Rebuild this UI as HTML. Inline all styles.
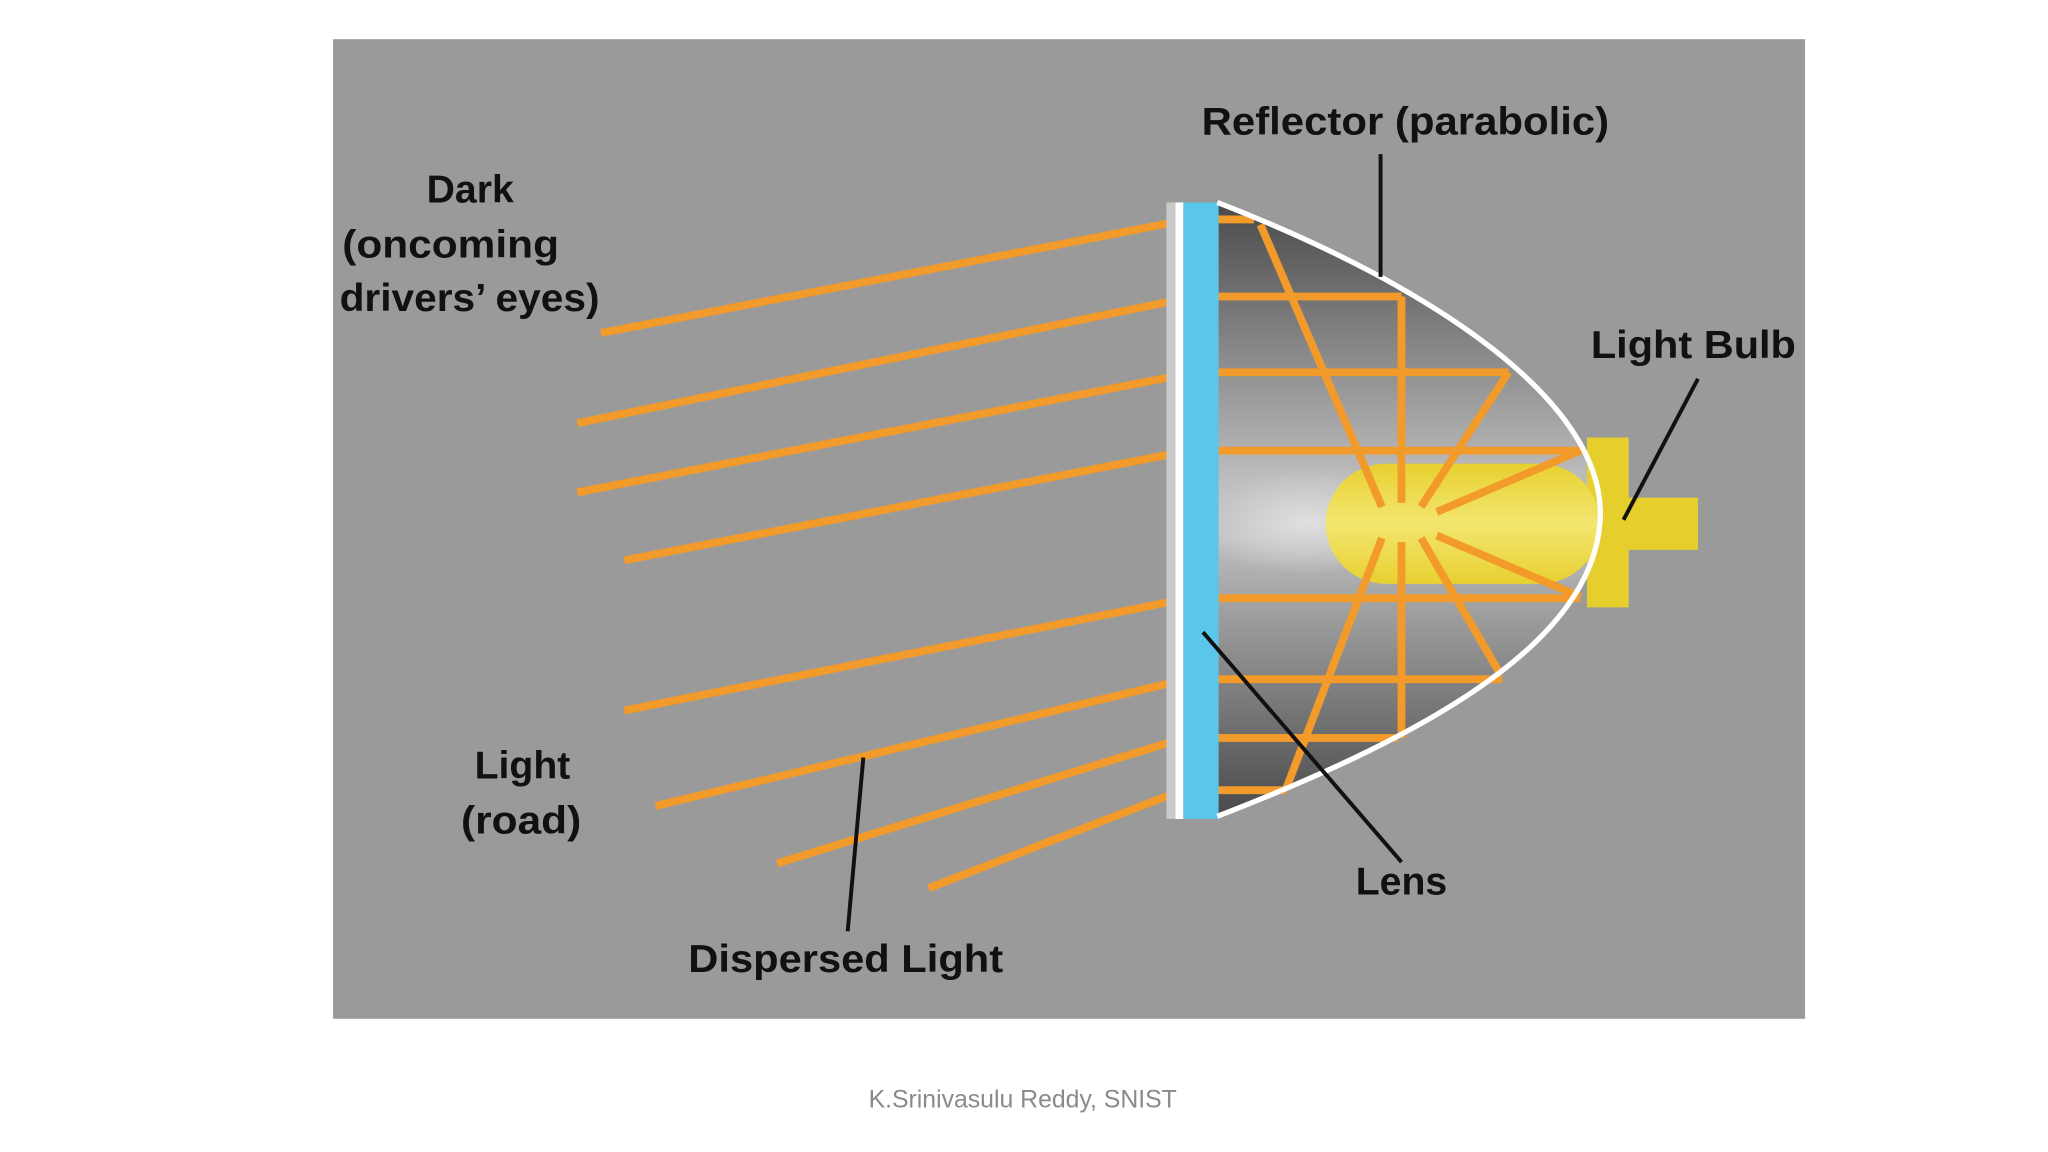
<!DOCTYPE html>
<html><head><meta charset="utf-8"><style>
html,body{margin:0;padding:0;background:#fff;}
svg{display:block;}
</style></head><body>
<svg width="2048" height="1152" viewBox="0 0 1568 882" xmlns="http://www.w3.org/2000/svg">
<defs>
<linearGradient id="refl" x1="0" y1="0" x2="0" y2="1">
<stop offset="0" stop-color="#4a4a4a"/>
<stop offset="0.25" stop-color="#8a8a8a"/>
<stop offset="0.45" stop-color="#bdbdbd"/>
<stop offset="0.55" stop-color="#bdbdbd"/>
<stop offset="0.75" stop-color="#8a8a8a"/>
<stop offset="1" stop-color="#4a4a4a"/>
</linearGradient>
<radialGradient id="glow" cx="0.5" cy="0.5" r="0.5">
<stop offset="0" stop-color="#e0e0e0"/>
<stop offset="1" stop-color="#e0e0e0" stop-opacity="0"/>
</radialGradient>
<linearGradient id="bulb" x1="0" y1="0" x2="0" y2="1">
<stop offset="0" stop-color="#e8d030"/>
<stop offset="0.5" stop-color="#f3e670"/>
<stop offset="1" stop-color="#e8d030"/>
</linearGradient>
</defs>
<rect x="0" y="0" width="1568" height="882" fill="#fff"/>
<rect x="255" y="30" width="1127" height="750" fill="#9b9a9b"/>

<path d="M932,155 C1100,220 1232,310 1225,400 C1218,490 1100,560 932,625 Z" fill="url(#refl)"/>
<ellipse cx="1000" cy="400" rx="90" ry="40" fill="url(#glow)"/>

<rect x="1215" y="335" width="32" height="130" fill="#e6cf2c"/>
<rect x="1245" y="381" width="55" height="40" fill="#e6cf2c"/>
<rect x="1015" y="355" width="210" height="92" rx="46" fill="url(#bulb)"/>

<g stroke="#f29a2a" stroke-width="6" fill="none" stroke-linecap="butt">
<line x1="905" y1="168" x2="960" y2="168"/>
<line x1="905" y1="227" x2="1073" y2="227"/>
<line x1="905" y1="285" x2="1155" y2="285"/>
<line x1="905" y1="345" x2="1212" y2="345"/>
<line x1="905" y1="458" x2="1210" y2="458"/>
<line x1="905" y1="520" x2="1150" y2="520"/>
<line x1="905" y1="565" x2="1070" y2="565"/>
<line x1="905" y1="605" x2="985" y2="605"/>
<line x1="1073" y1="227" x2="1073" y2="385"/>
<line x1="1073" y1="415" x2="1073" y2="565"/>
<line x1="965" y1="172" x2="1058" y2="388"/>
<line x1="1155" y1="285" x2="1088" y2="388"/>
<line x1="1210" y1="345" x2="1100" y2="392"/>
<line x1="1210" y1="457" x2="1100" y2="410"/>
<line x1="1148" y1="515" x2="1088" y2="412"/>
<line x1="985" y1="603" x2="1058" y2="412"/>
<polyline points="932,168 900,170 460,255"/>
<polyline points="900,230 442,324"/>
<polyline points="900,288 442,377"/>
<polyline points="900,347 478,429"/>
<polyline points="900,460 478,544"/>
<polyline points="900,522 502,617"/>
<polyline points="900,567 595,661"/>
<polyline points="932,605 900,607 711,680"/>
</g>

<rect x="893" y="155" width="8" height="472" fill="#c9c9c9"/>
<rect x="900" y="155" width="6" height="472" fill="#ffffff"/>
<rect x="906" y="155" width="27" height="472" fill="#5bc6ec"/>

<path d="M932,155 C1100,220 1232,310 1225,400 C1218,490 1100,560 932,625" fill="none" stroke="#fff" stroke-width="4"/>

<g stroke="#111" stroke-width="3">
<line x1="1057" y1="118" x2="1057" y2="212"/>
<line x1="1300" y1="290" x2="1243" y2="398"/>
<line x1="921" y1="484" x2="1073" y2="660"/>
<line x1="661" y1="580" x2="649" y2="713"/>
</g>

<g font-family="Liberation Sans, sans-serif" font-weight="bold" font-size="30" fill="#111">
<text x="920" y="103" textLength="312" lengthAdjust="spacingAndGlyphs">Reflector (parabolic)</text>
<text x="360" y="155" text-anchor="middle">Dark</text>
<text x="262" y="197" textLength="166" lengthAdjust="spacingAndGlyphs">(oncoming</text>
<text x="260" y="238" textLength="199" lengthAdjust="spacingAndGlyphs">drivers’ eyes)</text>
<text x="1218" y="274" textLength="157" lengthAdjust="spacingAndGlyphs">Light Bulb</text>
<text x="400" y="596" text-anchor="middle">Light</text>
<text x="399" y="638" text-anchor="middle" textLength="92" lengthAdjust="spacingAndGlyphs">(road)</text>
<text x="1073" y="685" text-anchor="middle" textLength="70" lengthAdjust="spacingAndGlyphs">Lens</text>
<text x="527" y="744" textLength="241" lengthAdjust="spacingAndGlyphs">Dispersed Light</text>
</g>
<text x="783" y="848" text-anchor="middle" font-family="Liberation Sans, sans-serif" font-size="19" fill="#8a8a8a">K.Srinivasulu Reddy, SNIST</text>
</svg>
</body></html>
